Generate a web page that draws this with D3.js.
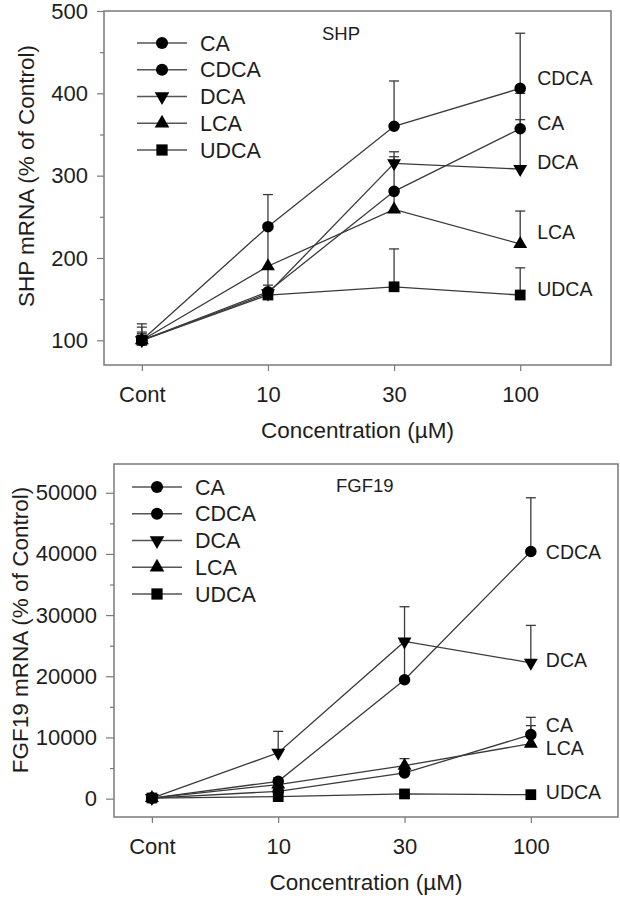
<!DOCTYPE html>
<html><head><meta charset="utf-8">
<script src="https://cdnjs.cloudflare.com/ajax/libs/d3/7.8.5/d3.min.js"></script>
<style>
body{margin:0;background:#fff;}
text{font-family:"Liberation Sans",Arial,sans-serif;fill:#1e1e1e;}
</style>
</head><body>
<svg id="chart" width="620" height="899"></svg>
<script>
// ---- data ----
const categories = ["Cont", "10", "30", "100"];
const seriesNames = ["CA", "CDCA", "DCA", "LCA", "UDCA"];
const seriesSymbols = ["circle", "circle", "triangleDown", "triangleUp", "square"];

// SHP (% of control)
const shpCA    = [100, 159, 281, 357];
const shpCDCA  = [100, 238, 360, 406];
const shpDCA   = [100, 157, 315, 308];
const shpLCA   = [100, 190, 259, 217];
const shpUDCA  = [100, 155, 165, 155];
const shpCAErr   = [20, 8, 42, 43];
const shpCDCAErr = [16, 39, 55, 67];
const shpDCAErr  = [10, 31, 14, 60];
const shpLCAErr  = [8, 46, 24, 40];
const shpUDCAErr = [6, 4, 46, 33];
const shpYTicks = [100, 200, 300, 400, 500];
const shpLabelValues = [364, 419, 316, 231, 162]; // CA, CDCA, DCA, LCA, UDCA end labels

// FGF19 (% of control)
const fgfCA    = [100, 1200, 4200, 10460];
const fgfCDCA  = [100, 2830, 19440, 40400];
const fgfDCA   = [100, 7500, 25700, 22200];
const fgfLCA   = [100, 2300, 5390, 8990];
const fgfUDCA  = [100, 330, 770, 650];
const fgfCAErr   = [300, 400, 800, 2830];
const fgfCDCAErr = [200, 600, 6200, 8780];
const fgfDCAErr  = [200, 3500, 5670, 6120];
const fgfLCAErr  = [200, 500, 1150, 2940];
const fgfUDCAErr = [100, 150, 250, 250];
const fgfYTicks = [0, 10000, 20000, 30000, 40000, 50000];
const fgfLabelValues = [11930, 40360, 22710, 8330, 980];

const svg = d3.select("#chart");
const lineColor = "#3a3a3a";
const frameColor = "#7a7a7a";

function symbolPath(kind, size) {
  if (kind === "circle") return d3.symbol(d3.symbolCircle, size)();
  if (kind === "square") return d3.symbol(d3.symbolSquare, size * 1.1)();
  return d3.symbol(d3.symbolTriangle, size * 0.8)();
}
function symbolTransform(kind, x, y) {
  return `translate(${x},${y})` + (kind === "triangleDown" ? " rotate(180)" : "");
}

function drawPanel(cfg) {
  const g = svg.append("g");
  const x = d3.scaleLinear().domain([-0.3, cfg.xMax]).range([cfg.left, cfg.right]);
  const y = d3.scaleLinear().domain(cfg.yDomain).range([cfg.bottom, cfg.top]);

  // y axis major
  const yAx = g.append("g").attr("transform", `translate(${cfg.left},0)`)
    .call(d3.axisLeft(y).tickValues(cfg.yTicks).tickSize(cfg.yTickLen).tickPadding(cfg.yPad).tickFormat(d3.format("d")));
  // y minor ticks
  const minor = cfg.yTicks.slice(0, -1).map((d, i) => (d + cfg.yTicks[i + 1]) / 2);
  const yMin = g.append("g").attr("transform", `translate(${cfg.left},0)`)
    .call(d3.axisLeft(y).tickValues(minor).tickSize(4).tickFormat(""));
  // x axis
  const xAx = g.append("g").attr("transform", `translate(0,${cfg.bottom})`)
    .call(d3.axisBottom(x).tickValues([0, 1, 2, 3]).tickSize(6).tickPadding(15).tickFormat(i => categories[i]));
  [yAx, yMin, xAx].forEach(a => {
    a.select(".domain").remove();
    a.selectAll("line").attr("stroke", frameColor).attr("stroke-width", 1.2);
    a.selectAll("text").style("font-size", "22px").attr("fill", "#1e1e1e");
  });

  // frame
  g.append("rect").attr("x", cfg.left).attr("y", cfg.top)
    .attr("width", cfg.right - cfg.left).attr("height", cfg.bottom - cfg.top)
    .attr("fill", "none").attr("stroke", frameColor).attr("stroke-width", 1.5);

  // axis titles
  g.append("text").attr("x", (cfg.left + cfg.right) / 2).attr("y", cfg.bottom + 73)
    .attr("text-anchor", "middle").style("font-size", "22.5px").text("Concentration (\u00B5M)");
  g.append("text").attr("transform", `translate(${cfg.yTitleX},${cfg.yTitleY}) rotate(-90)`)
    .attr("text-anchor", "middle").style("font-size", "22.5px").text(cfg.yTitle);

  // panel title
  g.append("text").attr("x", cfg.titleX).attr("y", cfg.titleY).style("font-size", "18.5px").text(cfg.title);

  const line = d3.line().x((d, i) => x(i)).y(d => y(d));
  // lines
  cfg.series.forEach(s => {
    g.append("path").attr("d", line(s.values)).attr("fill", "none")
      .attr("stroke", lineColor).attr("stroke-width", 1.3);
  });
  // error bars (upper)
  cfg.series.forEach(s => {
    s.values.forEach((v, i) => {
      const top = y(v + s.err[i]);
      g.append("line").attr("x1", x(i)).attr("x2", x(i)).attr("y1", y(v)).attr("y2", top)
        .attr("stroke", lineColor).attr("stroke-width", 1.3);
      g.append("line").attr("x1", x(i) - 5).attr("x2", x(i) + 5).attr("y1", top).attr("y2", top)
        .attr("stroke", lineColor).attr("stroke-width", 1.3);
    });
  });
  // markers
  cfg.series.forEach(s => {
    s.values.forEach((v, i) => {
      g.append("path").attr("d", symbolPath(s.symbol, 105))
        .attr("transform", symbolTransform(s.symbol, x(i), y(v))).attr("fill", "#000");
    });
  });
  // end labels
  cfg.series.forEach((s, k) => {
    g.append("text").attr("x", x(3) + cfg.labelDx).attr("y", y(cfg.labelValues[k]))
      .attr("dy", "0.35em").style("font-size", "19.5px").text(s.name);
  });

  // legend
  seriesNames.forEach((name, k) => {
    const ly = cfg.legY + k * 26.75;
    g.append("line").attr("x1", cfg.legX).attr("x2", cfg.legX + 50).attr("y1", ly).attr("y2", ly)
      .attr("stroke", "#555").attr("stroke-width", 1.3);
    g.append("path").attr("d", symbolPath(seriesSymbols[k], 115))
      .attr("transform", symbolTransform(seriesSymbols[k], cfg.legX + 25, ly)).attr("fill", "#000");
    g.append("text").attr("x", cfg.legX + 63).attr("y", ly).attr("dy", "0.35em")
      .style("font-size", "21.5px").text(name);
  });
}

function buildSeries(vals, errs) {
  return seriesNames.map((n, k) => ({ name: n, symbol: seriesSymbols[k], values: vals[k], err: errs[k] }));
}

drawPanel({
  left: 104, right: 611, top: 11, bottom: 365, xMax: 3.72,
  yDomain: [70, 500], yTicks: shpYTicks, yTickLen: 7, yPad: 9,
  yTitle: "SHP mRNA (% of Control)", yTitleX: 34, yTitleY: 176,
  title: "SHP", titleX: 322, titleY: 39.5,
  series: buildSeries([shpCA, shpCDCA, shpDCA, shpLCA, shpUDCA],
                      [shpCAErr, shpCDCAErr, shpDCAErr, shpLCAErr, shpUDCAErr]),
  labelValues: shpLabelValues, labelDx: 17,
  legX: 137, legY: 43
});

drawPanel({
  left: 114, right: 618, top: 464, bottom: 817, xMax: 3.69,
  yDomain: [-3000, 54700], yTicks: fgfYTicks, yTickLen: 8, yPad: 9,
  yTitle: "FGF19 mRNA (% of Control)", yTitleX: 28, yTitleY: 630,
  title: "FGF19", titleX: 336, titleY: 491.5,
  series: buildSeries([fgfCA, fgfCDCA, fgfDCA, fgfLCA, fgfUDCA],
                      [fgfCAErr, fgfCDCAErr, fgfDCAErr, fgfLCAErr, fgfUDCAErr]),
  labelValues: fgfLabelValues, labelDx: 15,
  legX: 132, legY: 487
});
</script>
</body></html>
